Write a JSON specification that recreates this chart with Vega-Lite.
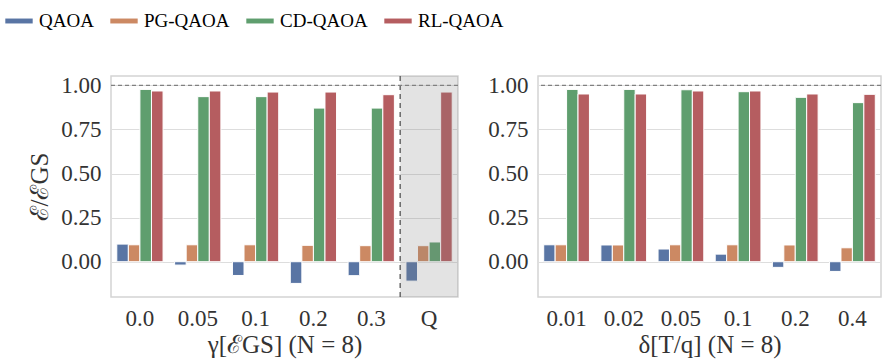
{
  "$schema": "https://vega.github.io/schema/vega-lite/v6.json",
  "padding": {"left": 5, "top": 7, "right": 0, "bottom": 5},
  "config": {
    "font": "Liberation Serif",
    "view": {"stroke": "#d4d4d4", "strokeWidth": 1.5},
    "axis": {
      "labelFont": "Liberation Serif",
      "labelFontSize": 23,
      "labelColor": "#333333",
      "titleFont": "Liberation Serif",
      "titleFontSize": 25,
      "titleColor": "#333333",
      "titleFontWeight": "normal",
      "domain": false,
      "ticks": false,
      "labelPadding": 10
    },
    "axisY": {"gridColor": "#dddddd", "gridWidth": 1.2},
    "axisX": {"grid": false},
    "legend": {
      "orient": "none", "legendX": -106, "legendY": -69,
      "direction": "horizontal",
      "symbolType": "M-1,-0.18H1V0.18H-1Z", "symbolSize": 750, "symbolStrokeWidth": 0,
      "labelFont": "Liberation Serif", "labelFontSize": 19, "labelColor": "#000000",
      "labelOffset": 6, "columnPadding": 16
    }
  },
  "datasets": {
    "gamma": [
      {"g": "0.0", "method": "QAOA", "v": 0.100},
      {"g": "0.0", "method": "PG-QAOA", "v": 0.096},
      {"g": "0.0", "method": "CD-QAOA", "v": 0.977},
      {"g": "0.0", "method": "RL-QAOA", "v": 0.968},
      {"g": "0.05", "method": "QAOA", "v": -0.019},
      {"g": "0.05", "method": "PG-QAOA", "v": 0.096},
      {"g": "0.05", "method": "CD-QAOA", "v": 0.936},
      {"g": "0.05", "method": "RL-QAOA", "v": 0.968},
      {"g": "0.1", "method": "QAOA", "v": -0.078},
      {"g": "0.1", "method": "PG-QAOA", "v": 0.096},
      {"g": "0.1", "method": "CD-QAOA", "v": 0.936},
      {"g": "0.1", "method": "RL-QAOA", "v": 0.962},
      {"g": "0.2", "method": "QAOA", "v": -0.123},
      {"g": "0.2", "method": "PG-QAOA", "v": 0.093},
      {"g": "0.2", "method": "CD-QAOA", "v": 0.871},
      {"g": "0.2", "method": "RL-QAOA", "v": 0.962},
      {"g": "0.3", "method": "QAOA", "v": -0.079},
      {"g": "0.3", "method": "PG-QAOA", "v": 0.091},
      {"g": "0.3", "method": "CD-QAOA", "v": 0.871},
      {"g": "0.3", "method": "RL-QAOA", "v": 0.947},
      {"g": "Q", "method": "QAOA", "v": -0.110},
      {"g": "Q", "method": "PG-QAOA", "v": 0.091},
      {"g": "Q", "method": "CD-QAOA", "v": 0.112},
      {"g": "Q", "method": "RL-QAOA", "v": 0.962}
    ],
    "delta": [
      {"g": "0.01", "method": "QAOA", "v": 0.096},
      {"g": "0.01", "method": "PG-QAOA", "v": 0.096},
      {"g": "0.01", "method": "CD-QAOA", "v": 0.977},
      {"g": "0.01", "method": "RL-QAOA", "v": 0.951},
      {"g": "0.02", "method": "QAOA", "v": 0.095},
      {"g": "0.02", "method": "PG-QAOA", "v": 0.095},
      {"g": "0.02", "method": "CD-QAOA", "v": 0.977},
      {"g": "0.02", "method": "RL-QAOA", "v": 0.951},
      {"g": "0.05", "method": "QAOA", "v": 0.072},
      {"g": "0.05", "method": "PG-QAOA", "v": 0.096},
      {"g": "0.05", "method": "CD-QAOA", "v": 0.975},
      {"g": "0.05", "method": "RL-QAOA", "v": 0.968},
      {"g": "0.1", "method": "QAOA", "v": 0.043},
      {"g": "0.1", "method": "PG-QAOA", "v": 0.096},
      {"g": "0.1", "method": "CD-QAOA", "v": 0.964},
      {"g": "0.1", "method": "RL-QAOA", "v": 0.968},
      {"g": "0.2", "method": "QAOA", "v": -0.032},
      {"g": "0.2", "method": "PG-QAOA", "v": 0.095},
      {"g": "0.2", "method": "CD-QAOA", "v": 0.932},
      {"g": "0.2", "method": "RL-QAOA", "v": 0.951},
      {"g": "0.4", "method": "QAOA", "v": -0.055},
      {"g": "0.4", "method": "PG-QAOA", "v": 0.079},
      {"g": "0.4", "method": "CD-QAOA", "v": 0.902},
      {"g": "0.4", "method": "RL-QAOA", "v": 0.949}
    ]
  },
  "spacing": 27,
  "resolve": {"scale": {"x": "independent", "xOffset": "independent"}},
  "hconcat": [
    {
      "width": 347,
      "height": 221,
      "layer": [
        {
          "data": {"name": "gamma"},
          "mark": {"type": "bar", "stroke": "white", "strokeWidth": 1},
          "encoding": {
            "x": {
              "field": "g", "type": "nominal",
              "sort": ["0.0", "0.05", "0.1", "0.2", "0.3", "Q"],
              "scale": {"paddingInner": 0, "paddingOuter": 0},
              "axis": {"labelAngle": 0, "title": "γ[ℰGS] (N = 8)", "titlePadding": 2}
            },
            "xOffset": {
              "field": "method", "type": "nominal",
              "sort": ["QAOA", "PG-QAOA", "CD-QAOA", "RL-QAOA"],
              "scale": {"paddingInner": 0, "paddingOuter": 0.5}
            },
            "y": {
              "field": "v", "type": "quantitative",
              "scale": {"domain": [-0.2, 1.053], "nice": false, "zero": false},
              "axis": {"values": [0, 0.25, 0.5, 0.75, 1], "format": ".2f", "title": "ℰ/ℰGS", "titlePadding": 8}
            },
            "fill": {
              "field": "method", "type": "nominal",
              "sort": ["QAOA", "PG-QAOA", "CD-QAOA", "RL-QAOA"],
              "scale": {"domain": ["QAOA", "PG-QAOA", "CD-QAOA", "RL-QAOA"], "range": ["#5975a4", "#cc8963", "#5f9e6e", "#b55d60"]},
              "legend": {
                "title": null,
                "encode": {
                  "symbols": {
                    "update": {
                      "fill": {"signal": "datum.value === 'QAOA' ? '#4c72b0' : datum.value === 'PG-QAOA' ? '#dd8452' : datum.value === 'CD-QAOA' ? '#55a868' : '#c44e52'"}
                    }
                  }
                }
              }
            }
          }
        },
        {
          "data": {"name": "gamma"},
          "transform": [{"filter": "datum.g === 'Q' && datum.method === 'QAOA'"}],
          "mark": {"type": "rect", "color": "#808080", "opacity": 0.22},
          "encoding": {
            "x": {"field": "g", "type": "nominal", "sort": ["0.0", "0.05", "0.1", "0.2", "0.3", "Q"]}
          }
        },
        {
          "data": {"name": "gamma"},
          "transform": [{"filter": "datum.g === 'Q' && datum.method === 'QAOA'"}],
          "mark": {"type": "rule", "color": "#555555", "strokeWidth": 1.3, "strokeDash": [5, 4]},
          "encoding": {
            "x": {"field": "g", "type": "nominal", "bandPosition": 0, "sort": ["0.0", "0.05", "0.1", "0.2", "0.3", "Q"]}
          }
        },
        {
          "data": {"values": [{}]},
          "mark": {"type": "rule", "color": "#808080", "strokeWidth": 1.2, "strokeDash": [4, 3]},
          "encoding": {"y": {"datum": 1}}
        }
      ]
    },
    {
      "width": 343,
      "height": 221,
      "layer": [
        {
          "data": {"name": "delta"},
          "mark": {"type": "bar", "stroke": "white", "strokeWidth": 1},
          "encoding": {
            "x": {
              "field": "g", "type": "nominal",
              "sort": ["0.01", "0.02", "0.05", "0.1", "0.2", "0.4"],
              "scale": {"paddingInner": 0, "paddingOuter": 0},
              "axis": {"labelAngle": 0, "title": "δ[T/q] (N = 8)", "titlePadding": 2}
            },
            "xOffset": {
              "field": "method", "type": "nominal",
              "sort": ["QAOA", "PG-QAOA", "CD-QAOA", "RL-QAOA"],
              "scale": {"paddingInner": 0, "paddingOuter": 0.5}
            },
            "y": {
              "field": "v", "type": "quantitative",
              "scale": {"domain": [-0.2, 1.053], "nice": false, "zero": false},
              "axis": {"values": [0, 0.25, 0.5, 0.75, 1], "format": ".2f", "title": null}
            },
            "fill": {
              "field": "method", "type": "nominal",
              "sort": ["QAOA", "PG-QAOA", "CD-QAOA", "RL-QAOA"],
              "scale": {"domain": ["QAOA", "PG-QAOA", "CD-QAOA", "RL-QAOA"], "range": ["#5975a4", "#cc8963", "#5f9e6e", "#b55d60"]},
              "legend": {
                "title": null,
                "encode": {
                  "symbols": {
                    "update": {
                      "fill": {"signal": "datum.value === 'QAOA' ? '#4c72b0' : datum.value === 'PG-QAOA' ? '#dd8452' : datum.value === 'CD-QAOA' ? '#55a868' : '#c44e52'"}
                    }
                  }
                }
              }
            }
          }
        },
        {
          "data": {"values": [{}]},
          "mark": {"type": "rule", "color": "#808080", "strokeWidth": 1.2, "strokeDash": [4, 3]},
          "encoding": {"y": {"datum": 1}}
        }
      ]
    }
  ]
}
